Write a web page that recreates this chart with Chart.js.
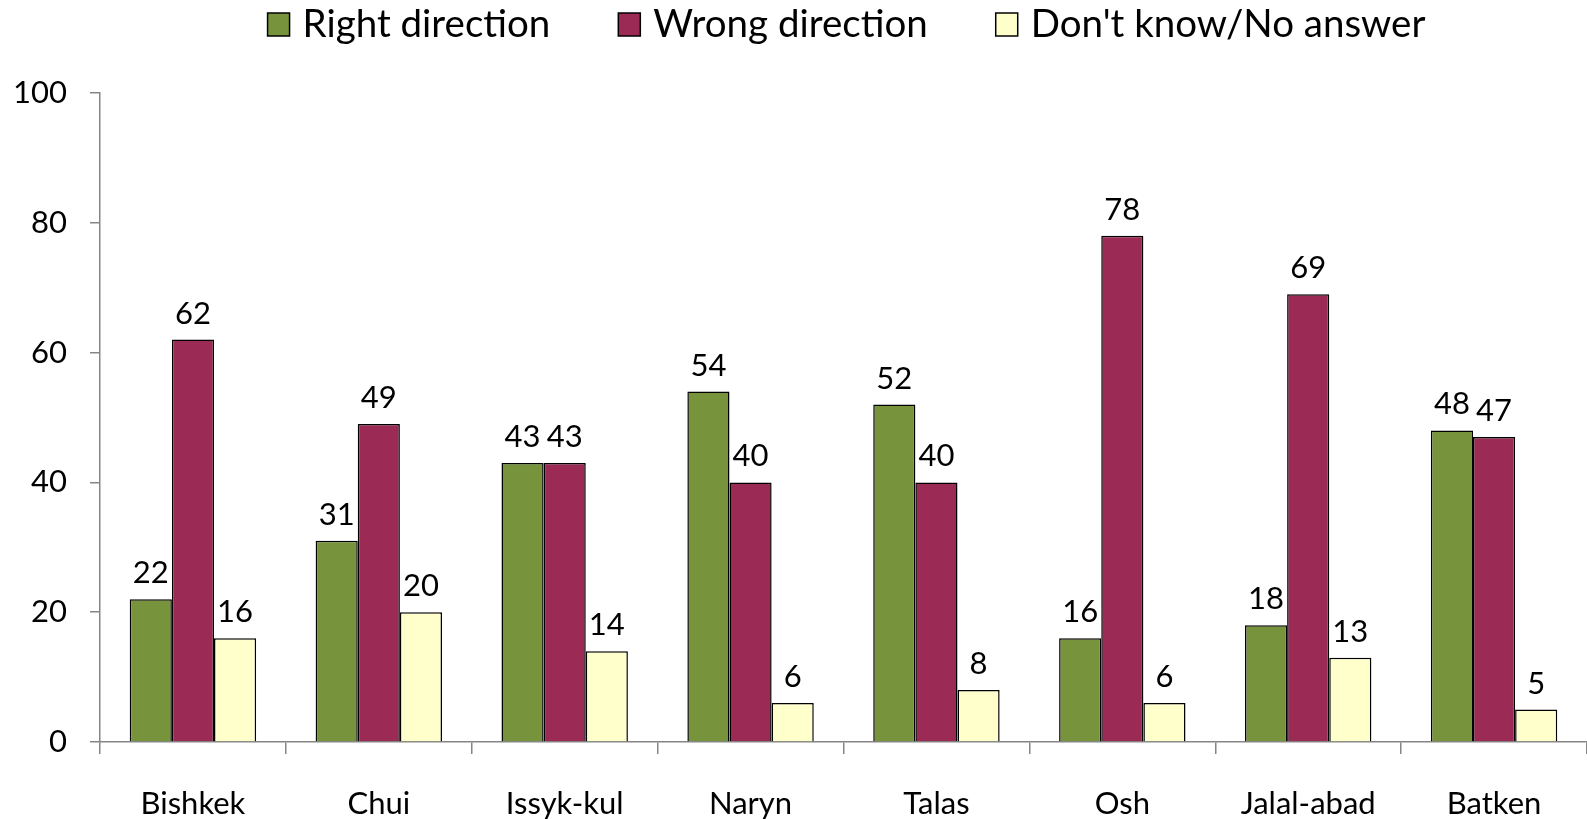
<!DOCTYPE html>
<html>
<head>
<meta charset="utf-8">
<script src="https://cdn.jsdelivr.net/npm/chart.js@4"></script>
<style>
  html, body { margin: 0; padding: 0; background: #fff; }
  #wrap { width: 1587px; height: 819px; }
</style>
</head>
<body>
<div id="wrap"><canvas id="chart" width="1587" height="819"></canvas></div>
<script>
const regions = ["Bishkek", "Chui", "Issyk-kul", "Naryn", "Talas", "Osh", "Jalal-abad", "Batken"];
const rightDirection = [22, 31, 43, 54, 52, 16, 18, 48];
const wrongDirection = [62, 49, 43, 40, 40, 78, 69, 47];
const dontKnow = [16, 20, 14, 6, 8, 6, 13, 5];
const yTicks = [0, 20, 40, 60, 80, 100];

const FONT = "Lato, 'Open Sans', sans-serif";

// value labels above each bar
const barLabels = {
  id: "barLabels",
  afterDatasetsDraw(chart) {
    const ctx = chart.ctx;
    ctx.save();
    ctx.font = "31px " + FONT;
    ctx.fillStyle = "#000";
    ctx.textAlign = "center";
    ctx.textBaseline = "alphabetic";
    chart.data.datasets.forEach((ds, i) => {
      chart.getDatasetMeta(i).data.forEach((bar, j) => {
        ctx.fillText(ds.data[j], bar.x, bar.y - 16);
      });
    });
    ctx.restore();
  },
};

// legend row at the top, centred over the plot area
const topLegend = {
  id: "topLegend",
  afterDraw(chart) {
    const ctx = chart.ctx;
    const area = chart.chartArea;
    ctx.save();
    ctx.font = "38.5px " + FONT;
    const box = 22, gap = 13, spacing = 68;
    const items = chart.data.datasets.map((ds) => ({
      text: ds.label,
      color: ds.backgroundColor,
      w: box + gap + ctx.measureText(ds.label).width,
    }));
    let total = items.reduce((s, it) => s + it.w, 0) + spacing * (items.length - 1);
    let x = (area.left + area.right) / 2 + 3 - total / 2;
    const cy = 24.5;
    items.forEach((it) => {
      ctx.fillStyle = it.color;
      ctx.fillRect(x, cy - 11.5, box, 23);
      ctx.strokeStyle = "#000";
      ctx.lineWidth = 1.5;
      ctx.strokeRect(x, cy - 11.5, box, 23);
      ctx.fillStyle = "#000";
      ctx.textBaseline = "middle";
      ctx.textAlign = "left";
      ctx.fillText(it.text, x + box + gap, cy);
      x += it.w + spacing;
    });
    ctx.restore();
  },
};

new Chart(document.getElementById("chart"), {
  type: "bar",
  data: {
    labels: regions,
    datasets: [
      {
        label: "Right direction",
        data: rightDirection,
        backgroundColor: "#77933C",
        borderColor: "#000",
        borderWidth: 1.5,
      },
      {
        label: "Wrong direction",
        data: wrongDirection,
        backgroundColor: "#9B2A54",
        borderColor: "#000",
        borderWidth: 1.5,
      },
      {
        label: "Don't know/No answer",
        data: dontKnow,
        backgroundColor: "#FFFFCC",
        borderColor: "#000",
        borderWidth: 1.5,
      },
    ],
  },
  options: {
    responsive: false,
    animation: false,
    layout: {
      padding: { top: 93, right: 0, bottom: 0, left: 0 },
    },
    datasets: {
      bar: {
        categoryPercentage: 0.68,
        barPercentage: 1,
      },
    },
    scales: {
      x: {
        afterFit(scale) {
          scale.height = 77;
        },
        grid: {
          offset: true,
          drawOnChartArea: false,
          drawTicks: true,
          tickLength: 12,
          color: "#868686",
          lineWidth: 1.5,
        },
        border: { color: "#868686", width: 1.5 },
        ticks: {
          color: "#000",
          padding: 31,
          font: { family: FONT, size: 31 },
        },
      },
      y: {
        min: 0,
        max: 100,
        afterFit(scale) {
          scale.width = 100;
        },
        afterBuildTicks(scale) {
          scale.ticks = yTicks.map((v) => ({ value: v }));
        },
        grid: {
          drawOnChartArea: false,
          drawTicks: true,
          tickLength: 10,
          color: "#868686",
          lineWidth: 1.5,
        },
        border: { color: "#868686", width: 1.5 },
        ticks: {
          color: "#000",
          padding: 23,
          font: { family: FONT, size: 31 },
        },
      },
    },
    plugins: {
      legend: { display: false },
      tooltip: { enabled: false },
    },
  },
  plugins: [barLabels, topLegend],
});
</script>
</body>
</html>
